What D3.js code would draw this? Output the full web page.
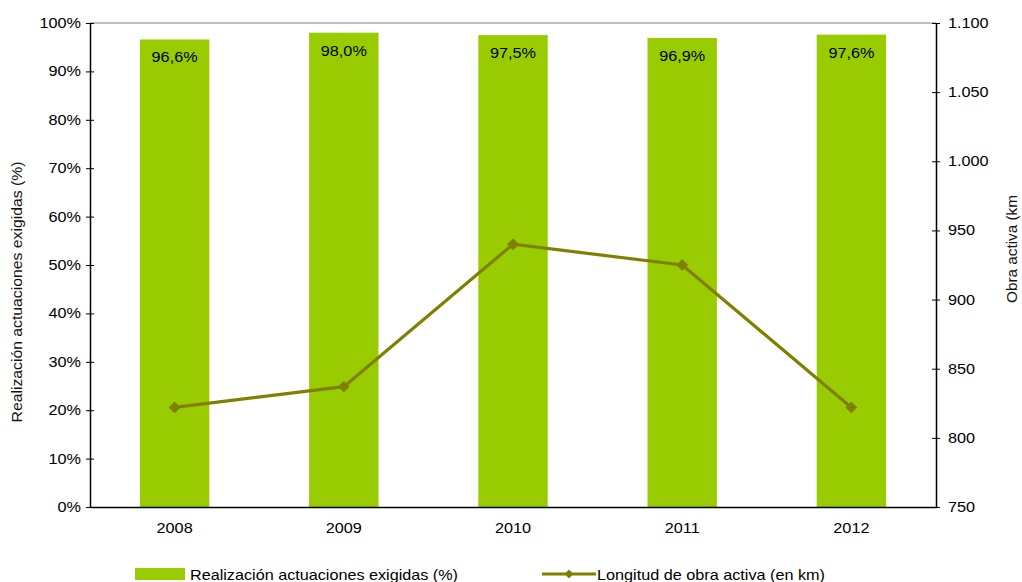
<!DOCTYPE html>
<html>
<head>
<meta charset="utf-8">
<script src="https://cdn.jsdelivr.net/npm/d3@7/dist/d3.min.js"></script>
<style>
  html, body { margin: 0; padding: 0; background: #fff; }
  svg { display: block; font-family: "Liberation Sans", Arial, sans-serif; }
</style>
</head>
<body>
<svg id="chart" width="1022" height="582"></svg>
<script>
// Annual data
const years = ["2008", "2009", "2010", "2011", "2012"];
const realizacion = [96.6, 98.0, 97.5, 96.9, 97.6];          // %
const longitudObra = [822, 837, 940, 925, 822];               // km
const leftTicks = [0, 10, 20, 30, 40, 50, 60, 70, 80, 90, 100];
const rightTicks = [750, 800, 850, 900, 950, 1000, 1050, 1100];

const svg = d3.select("#chart");
const m = { left: 90, right: 936, top: 23, bottom: 507 };
const FONT = "Liberation Sans, Arial, sans-serif";
const WIDE = 1.16; // horizontal widening of the label glyphs

const x = d3.scaleBand().domain(years).range([m.left, m.right]).paddingInner(0.59).paddingOuter(0.295);
const yL = d3.scaleLinear().domain([0, 100]).range([m.bottom, m.top]);
const yR = d3.scaleLinear().domain([750, 1100]).range([m.bottom, m.top]);

const fmtPct = d => d3.format(".1f")(d).replace(".", ",") + "%";
const fmtKm = d => d3.format(",")(d).replace(/,/g, ".");

// widen text horizontally about its own anchor point
function widen(sel) {
  sel.each(function () {
    const t = d3.select(this);
    const tx = +t.attr("x") || 0, ty = +t.attr("y") || 0;
    t.attr("x", 0).attr("y", 0)
     .attr("transform", `translate(${tx},${ty}) scale(${WIDE},1)`);
  });
}

// top frame line
svg.append("line")
  .attr("x1", m.left).attr("x2", m.right)
  .attr("y1", m.top).attr("y2", m.top)
  .attr("stroke", "#808080").attr("stroke-width", 1);

// bars
svg.append("g").selectAll("rect").data(years).join("rect")
  .attr("x", d => x(d))
  .attr("width", x.bandwidth())
  .attr("y", (d, i) => yL(realizacion[i]))
  .attr("height", (d, i) => yL(0) - yL(realizacion[i]))
  .attr("fill", "#99CC00");

// bar value labels
svg.append("g").selectAll("text").data(years).join("text")
  .attr("x", d => x(d) + x.bandwidth() / 2)
  .attr("y", (d, i) => yL(realizacion[i]) + 23)
  .attr("text-anchor", "middle")
  .attr("font-size", 14)
  .attr("fill", "#000")
  .text((d, i) => fmtPct(realizacion[i]))
  .call(widen);

// left axis
const axL = svg.append("g").attr("transform", `translate(${m.left},0)`)
  .call(d3.axisLeft(yL).tickValues(leftTicks).tickFormat(d => d + "%").tickSizeInner(4).tickSizeOuter(0));
axL.selectAll(".tick line").attr("x1", 4).attr("x2", -4);
axL.select(".domain").attr("stroke", "#000").attr("stroke-width", 1.5);
axL.selectAll(".tick text").attr("font-size", 14).attr("fill", "#000").attr("x", -9).attr("font-family", FONT).call(widen);

// right axis
const axR = svg.append("g").attr("transform", `translate(${m.right},0)`)
  .call(d3.axisRight(yR).tickValues(rightTicks).tickFormat(fmtKm).tickSizeInner(4).tickSizeOuter(0));
axR.selectAll(".tick line").attr("x1", -4).attr("x2", 4);
axR.select(".domain").attr("stroke", "#000").attr("stroke-width", 1.5);
axR.selectAll(".tick text").attr("font-size", 14).attr("fill", "#000").attr("x", 12).attr("font-family", FONT).call(widen);

// bottom axis
const axB = svg.append("g").attr("transform", `translate(0,${m.bottom})`)
  .call(d3.axisBottom(x).tickSize(0).tickPadding(16));
axB.select(".domain").attr("stroke", "#000").attr("stroke-width", 1.5);
axB.selectAll(".tick text").attr("font-size", 14).attr("fill", "#000").attr("font-family", FONT).call(widen);

// line series
const cx = d => x(d) + x.bandwidth() / 2;
const line = d3.line().x((d, i) => cx(years[i])).y(d => yR(d));
svg.append("path").datum(longitudObra)
  .attr("d", line)
  .attr("fill", "none")
  .attr("stroke", "#808000")
  .attr("stroke-width", 3.2);

svg.append("g").selectAll("path").data(longitudObra).join("path")
  .attr("transform", (d, i) => `translate(${cx(years[i])},${yR(d)}) rotate(45)`)
  .attr("d", d3.symbol().type(d3.symbolSquare).size(70))
  .attr("fill", "#808000");

// axis titles
svg.append("text")
  .attr("transform", "translate(22,292) rotate(-90)")
  .attr("text-anchor", "middle")
  .attr("font-size", 14)
  .attr("fill", "#111")
  .attr("textLength", 261)
  .attr("lengthAdjust", "spacingAndGlyphs")
  .text("Realización actuaciones exigidas (%)");

svg.append("text")
  .attr("transform", "translate(1017,249) rotate(-90)")
  .attr("text-anchor", "middle")
  .attr("font-size", 14)
  .attr("fill", "#111")
  .attr("textLength", 108)
  .attr("lengthAdjust", "spacingAndGlyphs")
  .text("Obra activa (km");

// legend
const lg = svg.append("g");
lg.append("rect").attr("x", 135).attr("y", 568).attr("width", 50).attr("height", 12).attr("fill", "#99CC00");
lg.append("text").attr("x", 190).attr("y", 580).attr("font-size", 15).attr("fill", "#000")
  .attr("textLength", 268).attr("lengthAdjust", "spacingAndGlyphs")
  .text("Realización actuaciones exigidas (%)");
lg.append("line").attr("x1", 542).attr("x2", 596).attr("y1", 574).attr("y2", 574)
  .attr("stroke", "#808000").attr("stroke-width", 3.2);
lg.append("path").attr("transform", "translate(569,574) rotate(45)")
  .attr("d", d3.symbol().type(d3.symbolSquare).size(40)).attr("fill", "#808000");
lg.append("text").attr("x", 597).attr("y", 580).attr("font-size", 15).attr("fill", "#000")
  .attr("textLength", 228).attr("lengthAdjust", "spacingAndGlyphs")
  .text("Longitud de obra activa (en km)");
</script>
</body>
</html>
